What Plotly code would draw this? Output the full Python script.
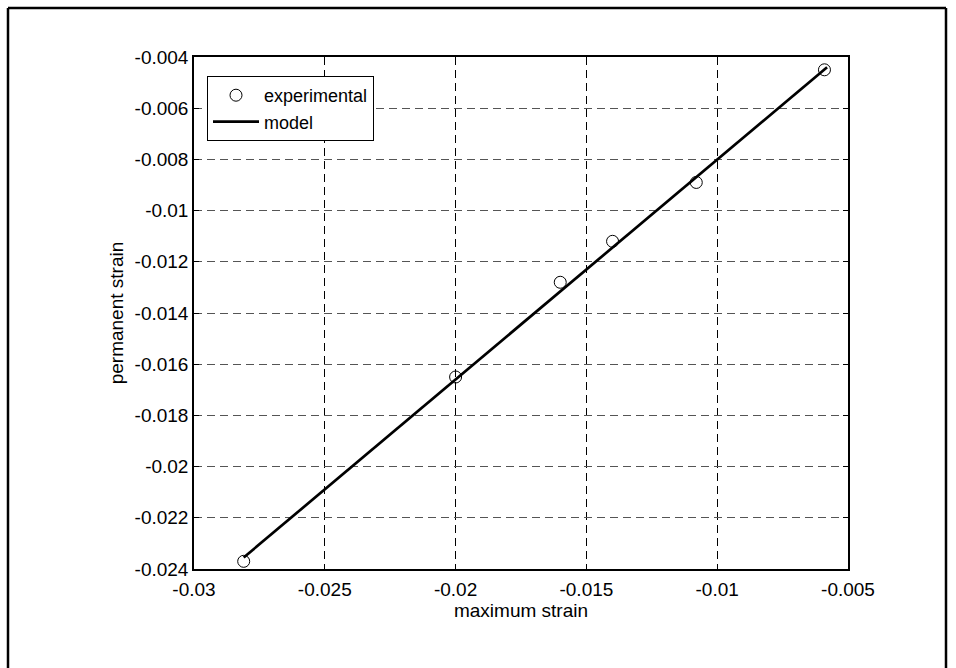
import plotly.graph_objects as go

# data
max_strain = [-0.0281, -0.0200, -0.0160, -0.0140, -0.0108, -0.0059]
perm_strain = [-0.0237, -0.0165, -0.0128, -0.0112, -0.0089, -0.0045]
model_x = [-0.0281, -0.0058]
model_y = [-0.02355, -0.0044]

x_tickvals = [-0.03, -0.025, -0.02, -0.015, -0.01, -0.005]
x_ticktext = ["-0.03", "-0.025", "-0.02", "-0.015", "-0.01", "-0.005"]
y_tickvals = [-0.024, -0.022, -0.02, -0.018, -0.016, -0.014, -0.012, -0.01, -0.008, -0.006, -0.004]
y_ticktext = ["-0.024", "-0.022", "-0.02", "-0.018", "-0.016", "-0.014", "-0.012", "-0.01", "-0.008", "-0.006", "-0.004"]

W, H = 956, 668
L, R, T, B = 194, 848, 57, 569

FONT = "Liberation Sans, Arial, sans-serif"
FS = 19

fig = go.Figure()
fig.add_trace(go.Scatter(
    x=max_strain, y=perm_strain, mode="markers", name="experimental",
    marker=dict(symbol="circle-open", size=12, color="black", line=dict(width=1, color="black")),
))
fig.add_trace(go.Scatter(
    x=model_x, y=model_y, mode="lines", name="model",
    line=dict(color="black", width=2.7),
))

def px_x(p):
    return (p - L) / (R - L)

def px_y(p):
    return (B - p) / (B - T)

shapes = [
    dict(type="line", xref="paper", yref="paper", x0=px_x(8), x1=px_x(8), y0=px_y(8), y1=px_y(668),
         line=dict(color="black", width=2.5)),
    dict(type="line", xref="paper", yref="paper", x0=px_x(8), x1=px_x(946), y0=px_y(8), y1=px_y(8),
         line=dict(color="black", width=2.5)),
    dict(type="line", xref="paper", yref="paper", x0=px_x(946), x1=px_x(946), y0=px_y(8), y1=px_y(668),
         line=dict(color="black", width=2.5)),
]

axis_common = dict(
    showline=True, linecolor="black", linewidth=1.5, mirror="ticks",
    ticks="inside", ticklen=5, tickwidth=1, tickcolor="black",
    showgrid=True, gridwidth=1, griddash="8px,5px", zeroline=False,
    tickfont=dict(family=FONT, size=FS, color="black"),
)

fig.update_layout(
    width=W, height=H,
    margin=dict(l=L, r=W - R, t=T, b=H - B),
    paper_bgcolor="white", plot_bgcolor="white",
    font=dict(family=FONT, size=FS, color="black"),
    shapes=shapes,
    showlegend=True,
    legend=dict(
        x=px_x(207), y=px_y(76), xanchor="left", yanchor="top",
        bordercolor="black", borderwidth=1, bgcolor="white",
        font=dict(family=FONT, size=18, color="black"),
        itemwidth=46, tracegroupgap=0,
    ),
    xaxis=dict(
        range=[-0.03, -0.005], tickvals=x_tickvals, ticktext=x_ticktext,
        gridcolor="black", ticklabelstandoff=2,
        title=dict(text="maximum strain", font=dict(family=FONT, size=FS, color="black"), standoff=0),
        **axis_common,
    ),
    yaxis=dict(
        range=[-0.024, -0.004], tickvals=y_tickvals, ticktext=y_ticktext,
        gridcolor="#555555",
        title=dict(text="permanent strain", font=dict(family=FONT, size=FS, color="black"), standoff=6),
        **axis_common,
    ),
)

fig.write_html("out.html")
